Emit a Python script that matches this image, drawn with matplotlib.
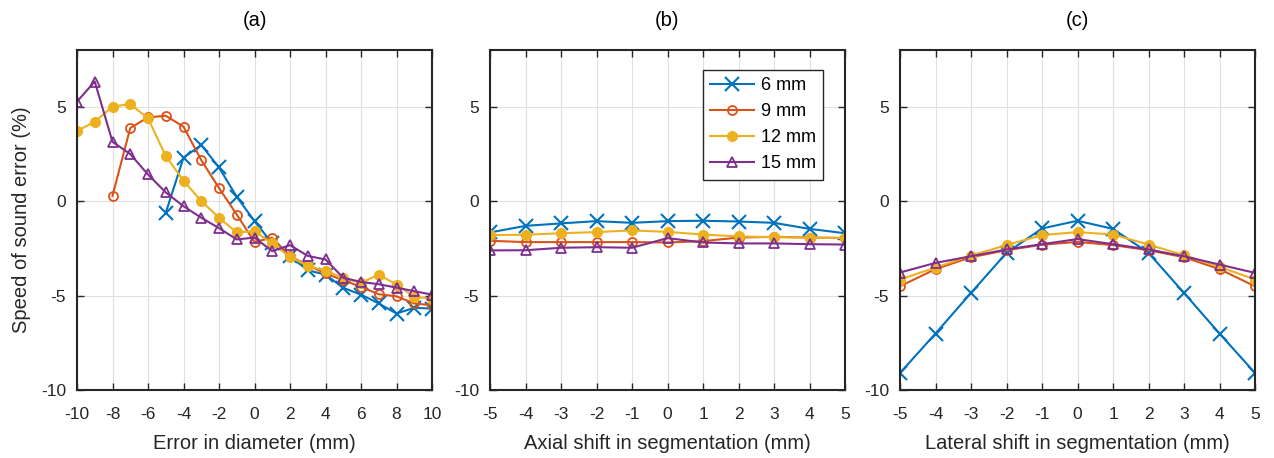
"""
Speed of sound error vs diameter error / segmentation shifts, three panels
"""

import numpy as np
import matplotlib
matplotlib.use("Agg")
import matplotlib.pyplot as plt

plt.rcParams["font.family"] = ["Liberation Sans", "DejaVu Sans"]
plt.rcParams["axes.unicode_minus"] = False

# Panel (a): error in diameter
x_a = np.arange(-10, 11)
a_6mm = [-0.62, 2.30, 2.97, 1.78, 0.23, -1.06, -2.24, -2.92, -3.66, -3.89,
         -4.59, -4.95, -5.42, -5.95, -5.65, -5.69]            # from -5
a_9mm = [0.28, 3.87, 4.43, 4.52, 3.94, 2.17, 0.69, -0.71, -2.16, -1.94,
         -2.92, -3.39, -3.83, -4.19, -4.54, -4.93, -5.04, -5.42, -5.51]  # from -8
a_12mm = [3.71, 4.20, 5.00, 5.14, 4.38, 2.39, 1.08, 0.00, -0.88, -1.66, -1.59,
          -2.24, -2.95, -3.43, -3.69, -4.06, -4.33, -3.89, -4.42, -5.07, -5.16]
a_15mm = [5.27, 6.33, 3.14, 2.49, 1.41, 0.46, -0.27, -0.88, -1.43, -2.03, -1.93,
          -2.65, -2.33, -2.90, -3.09, -4.06, -4.28, -4.40, -4.58, -4.77, -4.95]

# Panel (b): axial shift
x_b = np.arange(-5, 6)
b_6mm = [-1.66, -1.31, -1.18, -1.06, -1.15, -1.06, -1.04, -1.08, -1.15, -1.47, -1.70]
b_9mm = [-2.10, -2.17, -2.17, -2.17, -2.17, -2.19, -2.12, -1.93, -1.89, -1.93, -1.95]
b_12mm = [-1.80, -1.78, -1.70, -1.64, -1.55, -1.63, -1.77, -1.87, -1.91, -1.94, -1.95]
b_15mm = [-2.61, -2.60, -2.47, -2.44, -2.47, -1.96, -2.19, -2.24, -2.24, -2.28, -2.30]

# Panel (c): lateral shift
x_c = np.arange(-5, 6)
c_6mm = [-9.10, -7.01, -4.86, -2.74, -1.45, -1.04, -1.47, -2.74, -4.86, -7.01, -9.10]
c_9mm = [-4.51, -3.60, -2.97, -2.60, -2.31, -2.16, -2.33, -2.60, -2.97, -3.60, -4.51]
c_12mm = [-4.15, -3.52, -2.88, -2.33, -1.80, -1.64, -1.77, -2.30, -2.86, -3.48, -4.15]
c_15mm = [-3.78, -3.27, -2.92, -2.56, -2.28, -2.01, -2.28, -2.56, -2.92, -3.36, -3.80]

labels = ["6 mm", "9 mm", "12 mm", "15 mm"]
colors = ["#0072BD", "#D95319", "#EDB120", "#7E2F8E"]
styles = [
    dict(marker="x", ms=10, mew=1.5),
    dict(marker="o", ms=6.5, mfc="none", mew=1.3),
    dict(marker="o", ms=7, mew=1.0),
    dict(marker="^", ms=7.5, mfc="none", mew=1.3),
]

fig = plt.figure(figsize=(12.74, 4.58), dpi=100)
W, H = 1274, 458
lefts = [77, 490, 900]
axes = [fig.add_axes([l / W, 68 / H, 355 / W, 340 / H]) for l in lefts]

panel_data = [
    (x_a, [x_a[5:], x_a[2:], x_a, x_a], [a_6mm, a_9mm, a_12mm, a_15mm]),
    (x_b, [x_b] * 4, [b_6mm, b_9mm, b_12mm, b_15mm]),
    (x_c, [x_c] * 4, [c_6mm, c_9mm, c_12mm, c_15mm]),
]
titles = ["(a)", "(b)", "(c)"]
xlabels = ["Error in diameter (mm)", "Axial shift in segmentation (mm)",
           "Lateral shift in segmentation (mm)"]

for ax, (xt, xs, ys), t, xl in zip(axes, panel_data, titles, xlabels):
    for x, y, c, st, lab in zip(xs, ys, colors, styles, labels):
        ax.plot(x, y, color=c, lw=1.5, label=lab, **st)
    ax.set_xlim(xt[0], xt[-1])
    ax.set_ylim(-10, 8)
    ax.set_xticks(xt[::2] if len(xt) > 11 else xt)
    ax.set_yticks([-10, -5, 0, 5])
    ax.tick_params(direction="in", top=True, right=True, labelsize=12.5,
                   length=5, width=1, color="#262626", labelcolor="#262626")
    ax.tick_params(axis="x", pad=12)
    ax.tick_params(axis="y", pad=8)
    ax.grid(True, color="#e0e0e0", lw=0.8)
    ax.set_axisbelow(True)
    for s in ax.spines.values():
        s.set_linewidth(1.5)
        s.set_color("#262626")
    ax.set_title(t, fontsize=14.5, pad=17, color="#000000")
    ax.set_xlabel(xl, fontsize=14.5, labelpad=9, color="#262626")

axes[0].set_ylabel("Speed of sound error (%)", fontsize=14.5, color="#262626",
                   labelpad=7)

leg = axes[1].legend(loc="upper right", bbox_to_anchor=(0.938, 0.941),
                     borderaxespad=0, fontsize=13, frameon=True, fancybox=False,
                     edgecolor="#262626", handlelength=2.4,
                     borderpad=0.4, labelspacing=0.5, handletextpad=0.4,
                     framealpha=1)
leg.get_frame().set_linewidth(1.0)

fig.savefig("out.png", dpi=100)
